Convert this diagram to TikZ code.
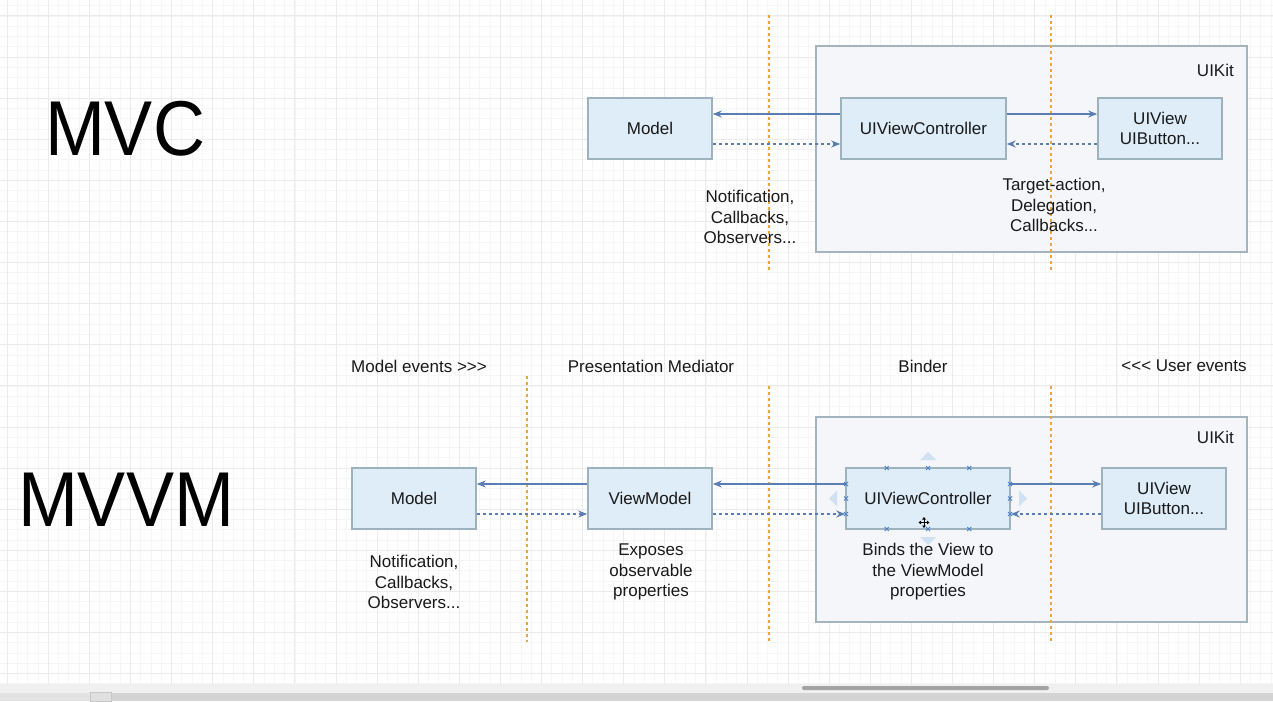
\documentclass[tikz,border=0pt]{standalone}
\usepackage{fontspec}
\setmainfont{Liberation Sans}
\usetikzlibrary{arrows.meta,calc}
\definecolor{boxfill}{HTML}{DEEDF8}
\definecolor{boxstroke}{HTML}{9EB2BE}
\definecolor{kitfill}{HTML}{F4F6FA}
\definecolor{kitstroke}{HTML}{A4B4BF}
\definecolor{arrowc}{HTML}{5A7DB3}
\definecolor{orangec}{HTML}{EBA640}
\definecolor{gridminor}{HTML}{F6F6F6}
\definecolor{gridmajor}{HTML}{EBEBEB}
\definecolor{handlec}{HTML}{4B80CF}
\definecolor{tric}{HTML}{CFE1F3}
\tikzset{
  txt/.style={font=\fontsize{17}{20.5}\selectfont, text=black!90, align=center, inner sep=0pt},
  box/.style={draw=boxstroke, fill=boxfill, line width=1.6pt, minimum height=61pt, minimum width=124pt, txt},
  container/.style={draw=kitstroke, fill=kitfill, line width=1.6pt, inner sep=0pt},
  solidarr/.style={draw=arrowc, line width=1.1pt, -{Stealth[length=9pt,width=7pt]}},
  dasharr/.style={draw=arrowc, line width=1.1pt, dash pattern=on 3pt off 3pt, -{Stealth[length=9pt,width=7pt]}},
  divider/.style={draw=orangec, line width=1.1pt, dash pattern=on 3pt off 3pt},
  bigtitle/.style={font=\fontsize{72}{72}\selectfont, inner sep=0pt, yscale=1.08},
  handle/.style={draw=handlec, line width=0.9pt},
}
\begin{document}
\begin{tikzpicture}[x=1pt,y=-1pt]
\useasboundingbox (0,0) rectangle (1273,701);
\fill[white] (0,0) rectangle (1273,701);
% grid
\foreach \i in {0,...,123} {
  \pgfmathsetmacro\xx{7.2+10.275*\i}
  \draw[gridminor, line width=0.8pt] (\xx,0) -- (\xx,684);
}
\foreach \j in {0,...,66} {
  \pgfmathsetmacro\yy{5.725+10.275*\j}
  \draw[gridminor, line width=0.8pt] (0,\yy) -- (1273,\yy);
}
\foreach \i in {0,...,30} {
  \pgfmathsetmacro\xx{48.3+41.1*(\i-1)}
  \draw[gridmajor, line width=1pt] (\xx,0) -- (\xx,684);
}
\foreach \j in {0,...,16} {
  \pgfmathsetmacro\yy{16+41.1*\j}
  \draw[gridmajor, line width=1pt] (0,\yy) -- (1273,\yy);
}

% ===== MVC =====
\node[bigtitle] (mvc) at (125,129) {MVC};

\node[container, minimum width=431pt, minimum height=206pt] (kit1) at (1031.5,149) {};
\node[txt, anchor=east] (kit1lbl) at (1234,70) {UIKit};

\coordinate (d1top) at (769,15);
\coordinate (d1bot) at (769,272);
\coordinate (d2top) at (1051,15);
\coordinate (d2bot) at (1051,272);
\draw[divider] (d1top) -- (d1bot);
\draw[divider] (d2top) -- (d2bot);

\node[box] (m1) at (650,128.5) {Model};
\node[box, minimum width=165pt] (c1) at (923.5,128.5) {UIViewController};
\node[box] (v1) at (1160,128.5) {UIView\\UIButton...};

\draw[solidarr] ([yshift=14.5pt]c1.west) -- ([yshift=14.5pt]m1.east);
\draw[dasharr] ([yshift=-15.5pt]m1.east) -- ([yshift=-15.5pt]c1.west);
\draw[solidarr] ([yshift=14.5pt]c1.east) -- ([yshift=14.5pt]v1.west);
\draw[dasharr] ([yshift=-15.5pt]v1.west) -- ([yshift=-15.5pt]c1.east);

\node[txt] (n1) at (750,217) {Notification,\\Callbacks,\\Observers...};
\node[txt] (t1) at (1054,205) {Target-action,\\Delegation,\\Callbacks...};

% ===== MVVM =====
\node[bigtitle] (mvvm) at (126,500) {MVVM};

\node[txt] (h1) at (419,366) {Model events >{}>{}>};
\node[txt] (h2) at (651,366) {Presentation Mediator};
\node[txt] (h3) at (923,366) {Binder};
\node[txt] (h4) at (1184,366) {<{}<{}< User events};

\node[container, minimum width=431pt, minimum height=205pt] (kit2) at (1031.5,519.5) {};
\node[txt, anchor=east] (kit2lbl) at (1234,437) {UIKit};

\coordinate (e1top) at (527,376);
\coordinate (e1bot) at (527,642);
\coordinate (e2top) at (769,386);
\coordinate (e2bot) at (769,642);
\coordinate (e3top) at (1051,386);
\coordinate (e3bot) at (1051,642);
\draw[divider] (e1top) -- (e1bot);
\draw[divider] (e2top) -- (e2bot);
\draw[divider] (e3top) -- (e3bot);

\node[box] (m2) at (414,498.5) {Model};
\node[box] (vm2) at (650,498.5) {ViewModel};
\node[box, minimum width=164pt] (c2) at (928,498.5) {UIViewController};
\node[box] (v2) at (1164,498.5) {UIView\\UIButton...};

\draw[solidarr] ([yshift=14.5pt]vm2.west) -- ([yshift=14.5pt]m2.east);
\draw[dasharr] ([yshift=-15.5pt]m2.east) -- ([yshift=-15.5pt]vm2.west);
\draw[solidarr] ([yshift=14.5pt]c2.west) -- ([yshift=14.5pt]vm2.east);
\draw[dasharr] ([yshift=-15.5pt]vm2.east) -- ([yshift=-15.5pt]c2.west);
\draw[solidarr] ([yshift=14.5pt]c2.east) -- ([yshift=14.5pt]v2.west);
\draw[dasharr] ([yshift=-15.5pt]v2.west) -- ([yshift=-15.5pt]c2.east);

\node[txt] (n2) at (414,582) {Notification,\\Callbacks,\\Observers...};
\node[txt] (x2) at (651,572) {Exposes\\observable\\properties};
\node[txt] (b2) at (928,572) {Binds the View to\\the ViewModel\\properties};

% selection handles on UIViewController (MVVM)
\foreach \p in {(886.7,468),(928,468),(969.3,468),(886.7,529),(928,529),(969.3,529),
                (846,484),(846,498.5),(846,514),(1010,484),(1010,498.5),(1010,514)} {
  \draw[handle] \p ++(-2,-2) -- ++(4,4) \p ++(-2,2) -- ++(4,-4);
}
\fill[tric] (920,460) -- (936,460) -- (928,452) -- cycle;
\fill[tric] (920,537) -- (936,537) -- (928,545) -- cycle;
\fill[tric] (837,490.5) -- (837,506.5) -- (829,498.5) -- cycle;
\fill[tric] (1019,490.5) -- (1019,506.5) -- (1027,498.5) -- cycle;
% move cursor
\draw[black, line width=0.9pt, {Triangle[length=2.5pt,width=3.5pt]}-{Triangle[length=2.5pt,width=3.5pt]}] (918.5,522.5) -- (929.5,522.5);
\draw[black, line width=0.9pt, {Triangle[length=2.5pt,width=3.5pt]}-{Triangle[length=2.5pt,width=3.5pt]}] (924,517) -- (924,528);

% bottom window chrome
\fill[black!6] (0,684) rectangle (1273,692.5);
\fill[black!17] (0,692.5) rectangle (1273,701);
\fill[black!11] (0,692.5) rectangle (90,701);
\filldraw[fill=black!12, draw=black!22, line width=0.8pt] (90,692.5) rectangle (111,701);
\fill[black!36, rounded corners=2pt] (802,686) rectangle (1049,690);
\end{tikzpicture}
\end{document}
